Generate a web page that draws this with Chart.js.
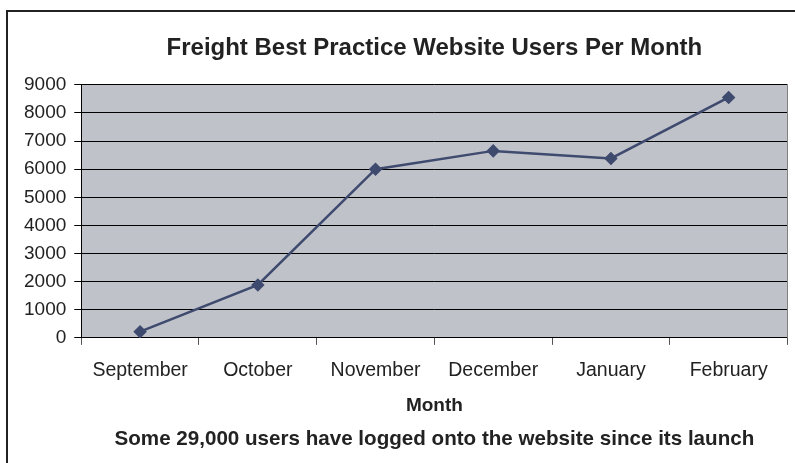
<!DOCTYPE html>
<html>
<head>
<meta charset="utf-8">
<script src="https://cdn.jsdelivr.net/npm/chart.js@4"></script>
<style>
  html, body { margin: 0; padding: 0; background: #ffffff; }
  #wrap { position: relative; width: 795px; height: 463px; overflow: hidden; }
  #frame { position: absolute; left: 6px; top: 10px; width: 820px; height: 480px; border: 2px solid #222; box-sizing: border-box; }
  canvas { position: absolute; left: 0; top: 0; }
</style>
</head>
<body>
<div id="wrap">
  <div id="frame"></div>
  <canvas id="c" width="795" height="463"></canvas>
</div>
<script>
const categories = ['September', 'October', 'November', 'December', 'January', 'February'];
const users = [220, 1880, 6000, 6650, 6380, 8550];
const chartTitle = 'Freight Best Practice Website Users Per Month';
const xAxisTitle = 'Month';
const footnote = 'Some 29,000 users have logged onto the website since its launch';
const yMin = 0, yMax = 9000, yStep = 1000;

const FONT = "'Liberation Sans', Arial, sans-serif";

const plotBg = {
  id: 'plotBg',
  beforeDraw(chart) {
    const { ctx, chartArea: a } = chart;
    ctx.save();
    ctx.fillStyle = '#C0C2CA';
    ctx.fillRect(a.left, a.top, a.right - a.left, a.bottom - a.top);
    ctx.restore();
  },
  afterDatasetsDraw(chart) {
    const { ctx, chartArea: a } = chart;
    ctx.save();
    ctx.strokeStyle = '#808080';
    ctx.lineWidth = 1;
    ctx.beginPath();
    ctx.moveTo(Math.round(a.right) - 0.5, a.top);
    ctx.lineTo(Math.round(a.right) - 0.5, a.bottom);
    ctx.stroke();
    ctx.restore();
  }
};

new Chart(document.getElementById('c'), {
  type: 'line',
  data: {
    labels: categories,
    datasets: [{
      label: 'Users',
      data: users,
      borderColor: '#3E4A6E',
      backgroundColor: '#3E4A6E',
      borderWidth: 2.5,
      pointStyle: 'rectRot',
      pointRadius: 5,
      pointHoverRadius: 5,
      tension: 0,
      fill: false
    }]
  },
  options: {
    responsive: false,
    animation: false,
    events: [],
    layout: { padding: { left: 16, right: 6, top: 0, bottom: 11 } },
    plugins: {
      legend: { display: false },
      tooltip: { enabled: false },
      title: {
        display: true,
        text: chartTitle,
        fullSize: false,
        color: '#222',
        font: { family: FONT, size: 24, weight: 'bold' },
        padding: { top: 34, bottom: 22 }
      },
      subtitle: {
        display: true,
        text: footnote,
        position: 'bottom',
        fullSize: false,
        color: '#222',
        font: { family: FONT, size: 20.6, weight: 'bold' },
        padding: { top: 12, bottom: 0 }
      }
    },
    scales: {
      x: {
        offset: true,
        grid: { offset: true, drawOnChartArea: false, drawTicks: true, tickLength: 7, color: '#555', lineWidth: 1 },
        border: { display: true, color: '#000', width: 1 },
        ticks: { color: '#222', font: { family: FONT, size: 19.5 }, padding: 14, maxRotation: 0, autoSkip: false },
        title: { display: true, text: xAxisTitle, color: '#222', font: { family: FONT, size: 19, weight: 'bold', lineHeight: 1.0 }, padding: { top: 0, bottom: 0 } }
      },
      y: {
        min: yMin,
        max: yMax,
        grid: { color: '#000', lineWidth: 1, drawTicks: true, tickLength: 7 },
        border: { display: true, color: '#000', width: 1 },
        ticks: { stepSize: yStep, color: '#222', font: { family: FONT, size: 19 }, padding: 8, callback: (v) => String(v) }
      }
    }
  },
  plugins: [plotBg]
});
</script>
</body>
</html>
